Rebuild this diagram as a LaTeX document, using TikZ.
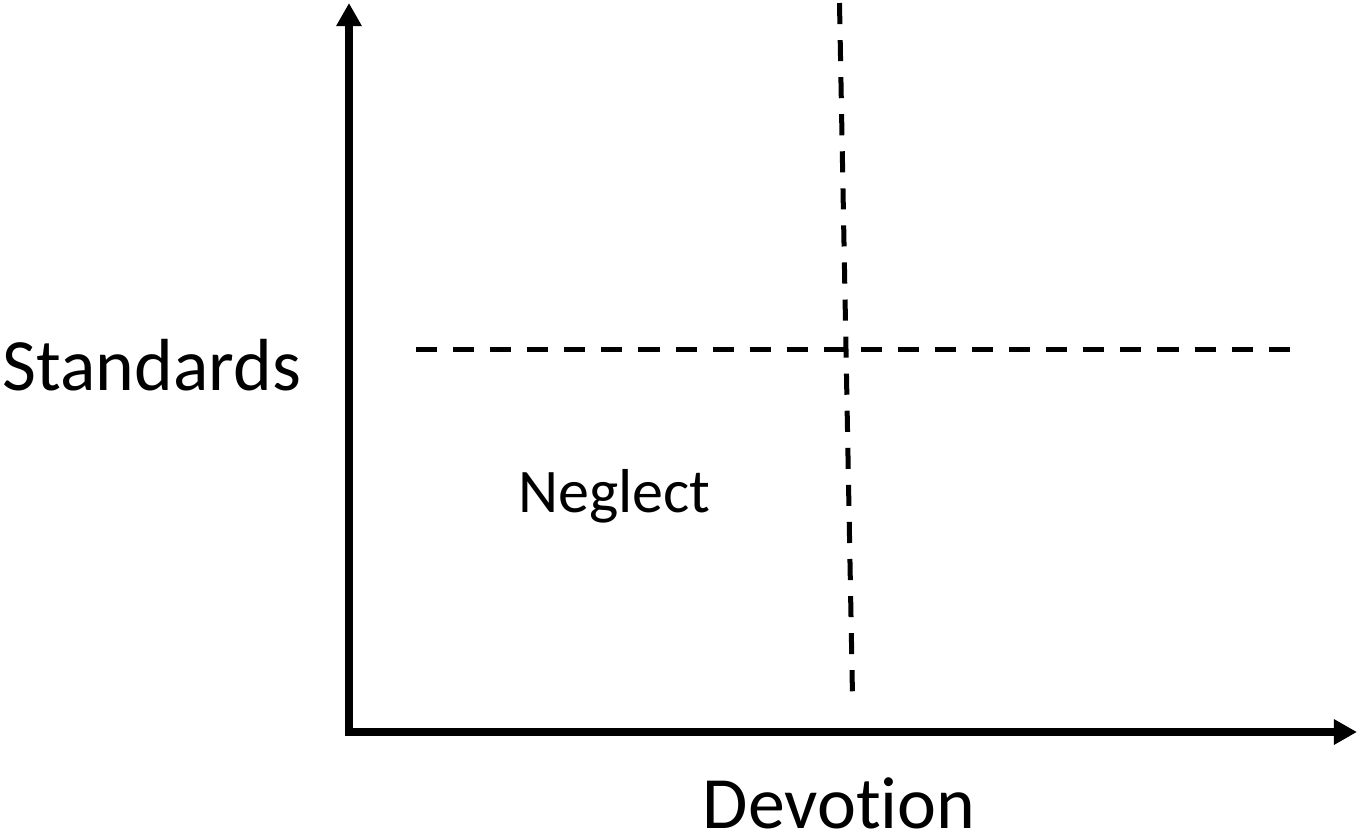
\documentclass[tikz,border=0pt]{standalone}
\usepackage{fontspec}
\setmainfont{Carlito}[RawFeature={-liga}]
\usetikzlibrary{arrows.meta, positioning}

\begin{document}
\begin{tikzpicture}[
            x=0.02cm, y=-0.02cm,
            axis/.style={line width=4.55pt, line join=miter, >={Triangle[length=13.1pt, width=13.7pt]}, <->},
            divider/.style={line width=2.85pt, dash pattern=on 12pt off 9.1pt},
            axislabel/.style={font=\fontsize{42}{50}\selectfont, anchor=base, inner sep=0pt},
            quadlabel/.style={font=\fontsize{35.3}{42}\selectfont, anchor=base, inner sep=0pt}
        ]
        \useasboundingbox (0,0) rectangle (1357,833);

        % Axes
        \coordinate (origin) at (349,732);
        \coordinate (ytip) at (349,3);
        \coordinate (xtip) at (1357,732);
        \draw[axis] (ytip) -- (origin) -- (xtip);

        % Dividers
        \coordinate (htop) at (416,349.5);
        \coordinate (hend) at (1297,349.5);
        \coordinate (vtop) at (839.5,3);
        \coordinate (vend) at (852.5,696);
        \draw[divider] (htop) -- (hend);
        \draw[divider] (vtop) -- (vend);

        % Labels
        \node[axislabel] (standards) at (152,390) {Standards};
        \node[axislabel] (devotion) at (839,828) {Devotion};
        \node[quadlabel] (neglect) at (614.5,512) {Neglect};

    \end{tikzpicture}
\end{document}
